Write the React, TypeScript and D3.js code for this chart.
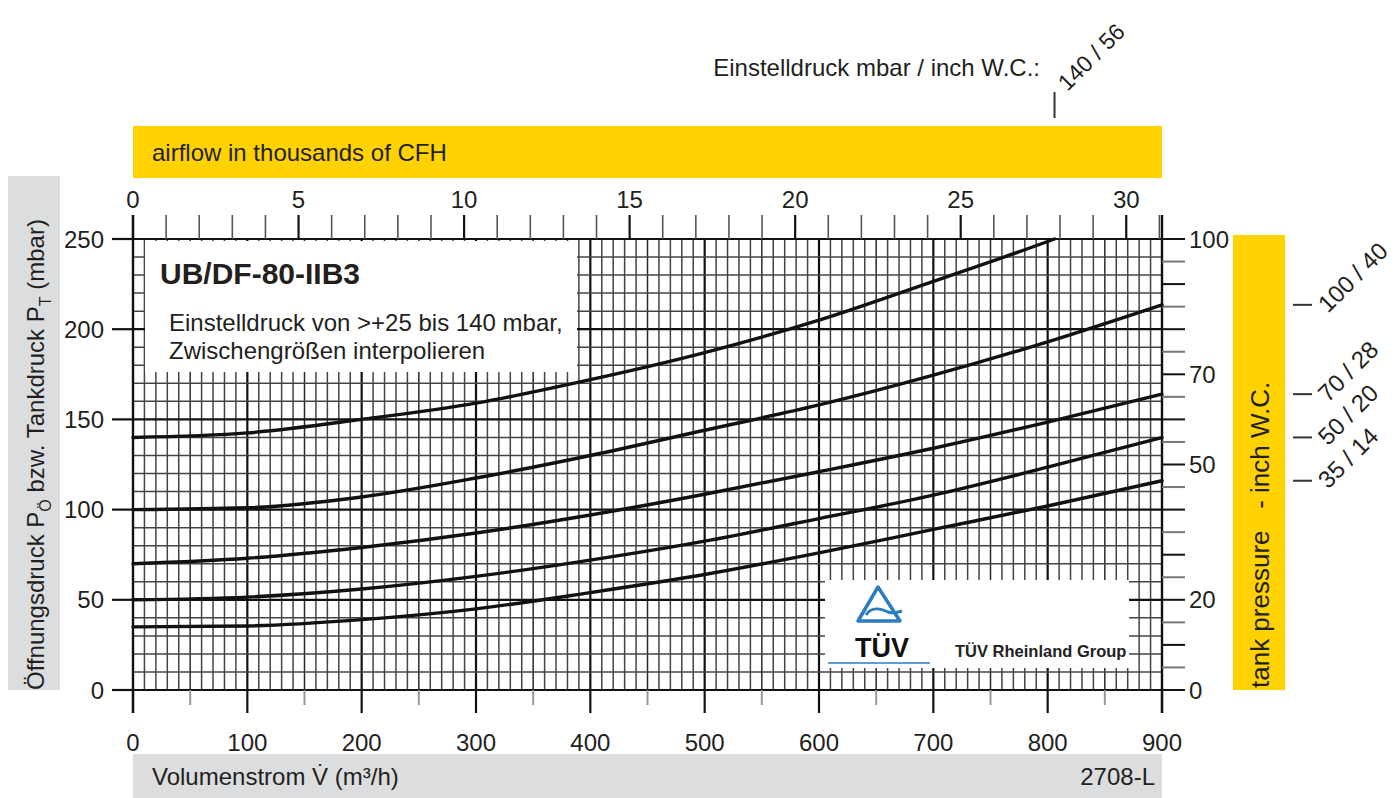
import React, { useEffect, useRef } from 'react'
import * as d3 from 'd3'

// volume flow (m³/h) at which the curves were read
const flowSteps = [0, 100, 200, 300, 400, 500, 600, 700, 800, 900]
const flowTop140 = [0, 100, 200, 300, 400, 500, 600, 700, 800, 806]

// opening pressure (mbar) per set pressure curve
const p140 = [140, 142.5, 150, 159, 172, 187, 205, 226.5, 248.6, 250]
const p100 = [100, 101, 107, 117.5, 130, 144, 158, 174.5, 193, 213.5]
const p70 = [70, 73, 79, 87, 97, 108.5, 121, 134, 148.5, 164]
const p50 = [50, 51.5, 56, 63, 72, 82.5, 95, 108, 123.5, 140]
const p35 = [35, 35.5, 39, 45, 54, 64, 76, 89, 102, 116]

const setLabels = ['140 / 56', '100 / 40', '70 / 28', '50 / 20', '35 / 14']

const mbarTicks = [0, 50, 100, 150, 200, 250]
const flowTicks = [0, 100, 200, 300, 400, 500, 600, 700, 800, 900]
const cfhTicks = [0, 5, 10, 15, 20, 25, 30]
const inchTicks = [0, 20, 50, 70, 100]

const W = 1397
const H = 798
const FONT = '"Liberation Sans", Arial, sans-serif'
const INK = '#231f20'
const YELLOW = '#ffd200'
const GREY = '#dcddde'
const TUV_BLUE = '#2b7cc0'

const App: React.FC = () => {
  const svgRef = useRef<SVGSVGElement | null>(null)

  useEffect(() => {
    if (!svgRef.current) return
    const svg = d3.select(svgRef.current)
    svg.selectAll('*').remove()

    const left = 133
    const right = 1162
    const top = 239
    const bottom = 690

    const x = d3.scaleLinear().domain([0, 900]).range([left, right])
    const y = d3.scaleLinear().domain([0, 250]).range([bottom, top])
    const xCfh = d3.scaleLinear().domain([0, 31.08]).range([left, right])
    const yInch = d3.scaleLinear().domain([0, 100]).range([bottom, top])

    // bands
    svg.append('rect').attr('x', 133).attr('y', 126).attr('width', right - 133).attr('height', 52).attr('fill', YELLOW)
    svg.append('text').attr('x', 152).attr('y', 161).attr('font-size', 24).attr('fill', INK).text('airflow in thousands of CFH')

    svg.append('rect').attr('x', 8).attr('y', 176).attr('width', 52).attr('height', 514).attr('fill', GREY)
    const lt = svg
      .append('text')
      .attr('transform', 'translate(44,690) rotate(-90)')
      .attr('font-size', 24)
      .attr('fill', INK)
    lt.append('tspan').text('Öffnungsdruck P')
    lt.append('tspan').attr('font-size', 16).attr('dy', 7).text('Ö')
    lt.append('tspan').attr('dy', -7).text(' bzw. Tankdruck P')
    lt.append('tspan').attr('font-size', 16).attr('dy', 7).text('T')
    lt.append('tspan').attr('dy', -7).text(' (mbar)')

    svg.append('rect').attr('x', 133).attr('y', 754).attr('width', right - 133).attr('height', 44).attr('fill', GREY)
    svg.append('text').attr('x', 152).attr('y', 785).attr('font-size', 24).attr('fill', INK).text('Volumenstrom V̇ (m³/h)')
    svg.append('text').attr('x', 1155).attr('y', 785).attr('text-anchor', 'end').attr('font-size', 24).attr('fill', INK).text('2708-L')

    svg.append('rect').attr('x', 1233).attr('y', 235).attr('width', 52).attr('height', 455).attr('fill', YELLOW)
    svg
      .append('text')
      .attr('transform', 'translate(1269,688) rotate(-90)')
      .attr('font-size', 26)
      .attr('fill', INK)
      .attr('xml:space', 'preserve')
      .text('tank pressure   - inch W.C.')

    // grid
    const grid = svg.append('g')
    d3.range(10, 900, 10).forEach((v) => {
      const major = v % 100 === 0
      grid.append('line')
        .attr('x1', x(v)).attr('x2', x(v)).attr('y1', top).attr('y2', bottom)
        .attr('stroke', major ? '#111' : v % 50 === 0 ? '#2a2a2a' : '#444')
        .attr('stroke-width', major ? 2.2 : 1.5)
    })
    d3.range(10, 250, 10).forEach((v) => {
      const major = v % 50 === 0
      grid.append('line')
        .attr('x1', left).attr('x2', right).attr('y1', y(v)).attr('y2', y(v))
        .attr('stroke', major ? '#111' : '#444')
        .attr('stroke-width', major ? 2.2 : 1.5)
    })
    // frame lines
    grid.append('line').attr('x1', left).attr('x2', left).attr('y1', 215).attr('y2', 713).attr('stroke', '#111').attr('stroke-width', 2.4)
    grid.append('line').attr('x1', right).attr('x2', right).attr('y1', 215).attr('y2', 713).attr('stroke', '#111').attr('stroke-width', 2.4)
    grid.append('line').attr('x1', 112).attr('x2', 1185).attr('y1', top).attr('y2', top).attr('stroke', '#111').attr('stroke-width', 2.2)
    grid.append('line').attr('x1', 112).attr('x2', 1185).attr('y1', bottom).attr('y2', bottom).attr('stroke', '#111').attr('stroke-width', 2.2)

    // left axis
    const lax = svg.append('g')
    mbarTicks.forEach((v) => {
      lax.append('line').attr('x1', 112).attr('x2', left).attr('y1', y(v)).attr('y2', y(v)).attr('stroke', '#111').attr('stroke-width', 2.2)
      lax.append('text').attr('x', 104).attr('y', y(v)).attr('dy', '0.36em').attr('text-anchor', 'end')
        .attr('font-size', 24).attr('fill', INK).text(v)
    })

    // bottom axis
    const bax = svg.append('g')
    d3.range(50, 900, 100).forEach((v) => {
      bax.append('line').attr('x1', x(v)).attr('x2', x(v)).attr('y1', bottom).attr('y2', 705).attr('stroke', '#999').attr('stroke-width', 2)
    })
    flowTicks.forEach((v) => {
      bax.append('line').attr('x1', x(v)).attr('x2', x(v)).attr('y1', bottom).attr('y2', 713).attr('stroke', '#111').attr('stroke-width', 2.2)
      bax.append('text').attr('x', x(v)).attr('y', 751).attr('text-anchor', 'middle')
        .attr('font-size', 24).attr('fill', INK).text(v)
    })

    // top axis (thousands CFH)
    const tax = svg.append('g')
    d3.range(0, 32, 1).forEach((v) => {
      const major = v % 5 === 0
      tax.append('line').attr('x1', xCfh(v)).attr('x2', xCfh(v)).attr('y1', 215).attr('y2', top)
        .attr('stroke', major ? '#111' : '#555').attr('stroke-width', major ? 2.2 : 1.6)
    })
    cfhTicks.forEach((v) => {
      tax.append('text').attr('x', xCfh(v)).attr('y', 208).attr('text-anchor', 'middle')
        .attr('font-size', 24).attr('fill', INK).text(v)
    })

    // right axis (inch W.C.)
    const rax = svg.append('g')
    d3.range(0, 101, 5).forEach((v) => {
      const major = v % 10 === 0
      rax.append('line').attr('x1', right).attr('x2', 1185).attr('y1', yInch(v)).attr('y2', yInch(v))
        .attr('stroke', major ? '#111' : '#777').attr('stroke-width', 2)
    })
    inchTicks.forEach((v) => {
      rax.append('text').attr('x', 1189).attr('y', yInch(v)).attr('dy', '0.36em')
        .attr('font-size', 24).attr('fill', INK).text(v)
    })

    // curves
    const series = [
      { flows: flowTop140, values: p140 },
      { flows: flowSteps, values: p100 },
      { flows: flowSteps, values: p70 },
      { flows: flowSteps, values: p50 },
      { flows: flowSteps, values: p35 },
    ]
    const line = d3
      .line<[number, number]>()
      .x((d) => x(d[0]))
      .y((d) => y(d[1]))
      .curve(d3.curveMonotoneX)
    series.forEach((s) => {
      const pts = s.flows.map((f, i) => [f, s.values[i]] as [number, number])
      svg.append('path').attr('d', line(pts)).attr('fill', 'none').attr('stroke', '#111')
        .attr('stroke-width', 3.4).attr('stroke-linecap', 'round')
    })

    // info box
    svg.append('rect').attr('x', 145).attr('y', 241).attr('width', 432).attr('height', 131).attr('fill', '#fff')
    svg.append('text').attr('x', 160).attr('y', 284).attr('font-size', 30).attr('font-weight', 'bold').attr('fill', INK).text('UB/DF-80-IIB3')
    svg.append('text').attr('x', 169).attr('y', 331).attr('font-size', 24).attr('fill', INK).text('Einstelldruck von >+25 bis 140 mbar,')
    svg.append('text').attr('x', 169).attr('y', 359).attr('font-size', 24).attr('fill', INK).text('Zwischengrößen interpolieren')

    // TÜV box
    const tuv = svg.append('g')
    tuv.append('rect').attr('x', 825).attr('y', 580).attr('width', 304).attr('height', 88).attr('fill', '#fff')
    tuv.append('path').attr('d', 'M878,587 L858,621 L900,621 Z').attr('fill', 'none').attr('stroke', TUV_BLUE)
      .attr('stroke-width', 3.5).attr('stroke-linejoin', 'round')
    tuv.append('path').attr('d', 'M866,615 C872,605 884,610 888,612 C893,614 898,612 902,611').attr('fill', 'none')
      .attr('stroke', TUV_BLUE).attr('stroke-width', 3)
    tuv.append('text').attr('x', 882).attr('y', 657).attr('text-anchor', 'middle').attr('font-size', 27)
      .attr('font-weight', 'bold').attr('fill', '#111').text('TÜV')
    tuv.append('line').attr('x1', 828).attr('x2', 930).attr('y1', 663).attr('y2', 663).attr('stroke', TUV_BLUE).attr('stroke-width', 1.5)
    tuv.append('text').attr('x', 955).attr('y', 657).attr('font-size', 16.5).attr('font-weight', 'bold')
      .attr('fill', '#222').text('TÜV Rheinland Group')

    // setpoint header
    svg.append('text').attr('x', 1040).attr('y', 76).attr('text-anchor', 'end').attr('font-size', 24).attr('fill', INK)
      .text('Einstelldruck mbar / inch W.C.:')

    // setpoint markers at curve ends
    series.forEach((s, i) => {
      const lastF = s.flows[s.flows.length - 1]
      const lastV = s.values[s.values.length - 1]
      if (lastV >= 250) {
        const mx = x(lastF)
        svg.append('line').attr('x1', mx).attr('x2', mx).attr('y1', 92).attr('y2', 118).attr('stroke', '#333').attr('stroke-width', 2)
        svg.append('text').attr('transform', `translate(${mx + 13},92) rotate(-45)`).attr('font-size', 23)
          .attr('fill', INK).text(setLabels[i])
      } else {
        const my = y(lastV)
        svg.append('line').attr('x1', 1293).attr('x2', 1312).attr('y1', my).attr('y2', my).attr('stroke', '#333').attr('stroke-width', 2)
        svg.append('text').attr('transform', `translate(${1328},${my + 9}) rotate(-45)`).attr('font-size', 24)
          .attr('fill', INK).text(setLabels[i])
      }
    })
  }, [])

  return (
    <svg
      ref={svgRef}
      width={W}
      height={H}
      style={{ position: 'absolute', left: 0, top: 0, fontFamily: FONT, background: '#fff' }}
    ></svg>
  )
}

export default App
